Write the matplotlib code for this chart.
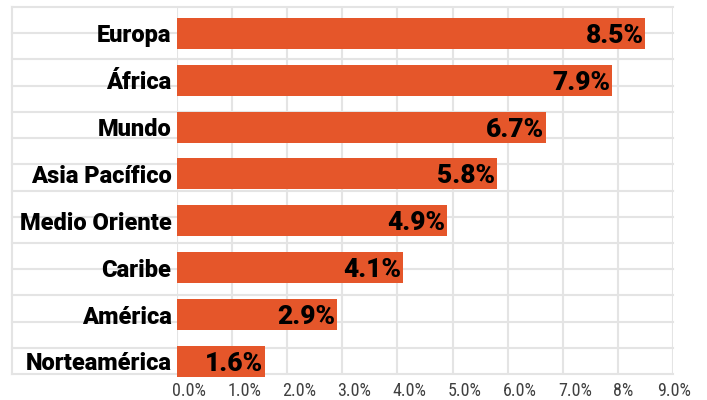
import matplotlib
matplotlib.use("Agg")
import matplotlib.pyplot as plt
import matplotlib.transforms as mt
import numpy as np

categories = ["Norteamérica", "América", "Caribe", "Medio Oriente", "Asia Pacífico", "Mundo", "África", "Europa"]
values = [1.6, 2.9, 4.1, 4.9, 5.8, 6.7, 7.9, 8.5]
value_labels = ["1.6%", "2.9%", "4.1%", "4.9%", "5.8%", "6.7%", "7.9%", "8.5%"]
xticks = [0, 1, 2, 3, 4, 5, 6, 7, 8, 9]
xtick_labels = ["0.0%", "1.0%", "2.0%", "3.0%", "4.0%", "5.0%", "6.0%", "7.0%", "8%", "9.0%"]

bold_font = "Roboto"
tick_font = "Roboto Condensed"
bar_color = "#E5562A"
grid_color = "#E4E4E4"

fig = plt.figure(figsize=(7.07, 4.0), dpi=100)
W, H = 707, 400
x0, x1 = 177, 673
ytop, ybot = 7, 374
ax = fig.add_axes([x0 / W, 1 - ybot / H, (x1 - x0) / W, (ybot - ytop) / H])

ypos = np.arange(len(categories))
ax.set_ylim(-0.267, 7.56)
ax.set_xlim(0, 9)
ax.barh(ypos, values, height=0.66, color=bar_color, zorder=3, clip_on=False)

px = 72.0 / fig.dpi
for y, v, lab in zip(ypos, values, value_labels):
    off = mt.offset_copy(ax.transData, fig=fig, x=-2 * px, y=0, units="points")
    ax.text(v, y, lab, ha="right", va="center_baseline", fontsize=19, fontweight="black",
            family=bold_font, color="black", zorder=4, transform=off)

ax.set_yticks(ypos)
ax.set_yticklabels(categories, fontsize=17, fontweight="black", family=bold_font, color="black")
ax.tick_params(axis="y", length=0, pad=4)
ax.set_xticks(xticks)
ax.set_xticklabels([])
ax.tick_params(axis="x", length=0)

xb = mt.blended_transform_factory(ax.transData, ax.transAxes)
for i, (t, lab) in enumerate(zip(xticks, xtick_labels)):
    if i == len(xticks) - 1:
        tr = mt.offset_copy(xb, fig=fig, x=1.5 * px, y=-22 * px, units="points")
        ha = "center"
    else:
        tr = mt.offset_copy(xb, fig=fig, x=-5 * px, y=-22 * px, units="points")
        ha = "left"
    ax.text(t, 0, lab, ha=ha, va="baseline", fontsize=13, family=tick_font,
            color="#404040", transform=tr, clip_on=False)

for s in ax.spines.values():
    s.set_visible(False)

ax.grid(axis="x", color=grid_color, linewidth=1.5, zorder=0)
ext = -(x0 - 12) / (x1 - x0)
ylo, yhi = ax.get_ylim()
tr = mt.blended_transform_factory(ax.transAxes, ax.transData)
for yy in np.linspace(ylo, yhi, 15):
    ax.plot([ext, 1], [yy, yy], transform=tr, color=grid_color, lw=1.5, zorder=0, clip_on=False)
ax.plot([ext, ext], [0, 1], transform=ax.transAxes, color=grid_color, lw=1.5, zorder=0, clip_on=False)

fig.savefig("out.png", dpi=100)
